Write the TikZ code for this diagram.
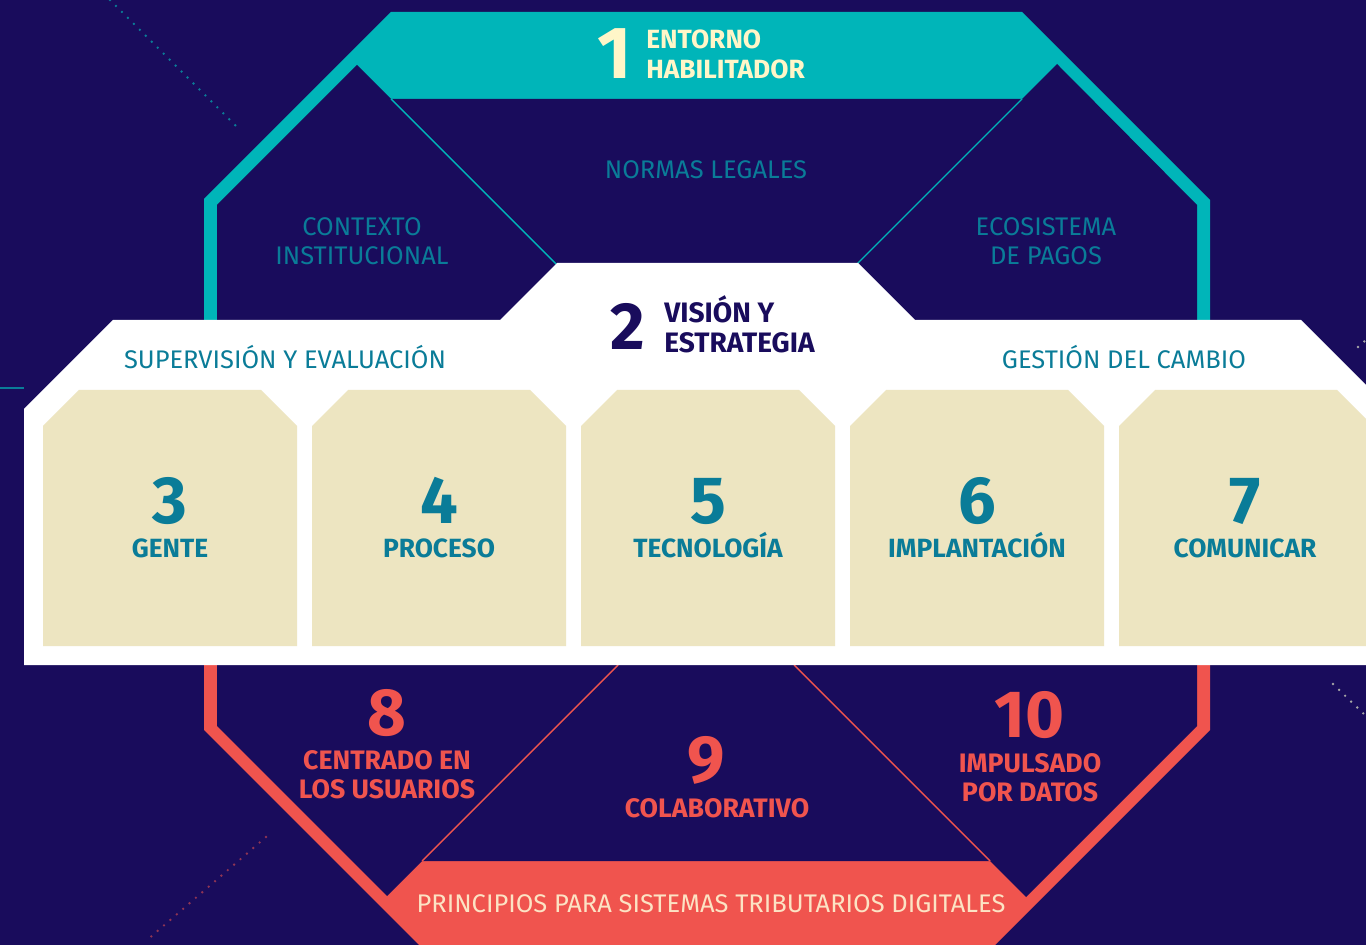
\documentclass[tikz,border=0pt]{standalone}
\usepackage{fontspec}
\setmainfont{Fira Sans}
\usetikzlibrary{positioning}

\definecolor{fondo}{RGB}{25,12,92}
\definecolor{turquesa}{RGB}{0,181,185}
\definecolor{azultxt}{RGB}{10,124,152}
\definecolor{crema}{RGB}{237,229,193}
\definecolor{coral}{RGB}{240,84,78}
\definecolor{durazno}{RGB}{252,227,196}
\definecolor{amarillo}{RGB}{255,246,200}

\tikzset{
  etiqueta/.style={text=azultxt, align=center, font=\fontsize{14.5}{16.5}\selectfont},
  pilarnum/.style={text=azultxt, inner sep=0pt, anchor=base, font=\fontsize{38}{38}\selectfont\bfseries},
  pilartxt/.style={text=azultxt, inner sep=0pt, anchor=base, font=\fontsize{15}{16.5}\selectfont\bfseries},
  principionum/.style={text=coral, inner sep=0pt, anchor=base, font=\fontsize{38}{38}\selectfont\bfseries},
  principiotxt/.style={text=coral, align=center, font=\fontsize{15.2}{16.5}\selectfont\bfseries},
  puntos/.style={line width=1.5pt, line cap=round, dash pattern=on 0pt off 4.8pt}
}

\begin{document}
\begin{tikzpicture}[x=0.02cm, y=-0.02cm]
    \useasboundingbox (0,0) rectangle (1366,945);
    \clip (0,0) rectangle (1366,945);

    % Fondo
    \fill[fondo] (0,0) rectangle (1366,945);

    % Lineas de puntos decorativas
    \draw[puntos, azultxt] (110,0) -- (240,130);
    \draw[puntos, coral!55!fondo] (266,837) -- (146,941);
    \draw[puntos, gray!70!white] (1333,684) -- (1366,716);
    \draw[puntos, gray!70!white] (1358,347) -- (1366,340);
    \draw[azultxt, line width=0.9pt] (0,388) -- (24,388);

    % Octogono superior (entorno habilitador)
    \fill[turquesa] (204,420) -- (204,199) -- (391,12) -- (1022,12) -- (1210,200) -- (1210,420) -- cycle;
    \fill[fondo] (217,420) -- (217,205) -- (357,65) -- (391,99) -- (1022,99) -- (1057,64) -- (1197,205) -- (1197,420) -- cycle;
    \draw[turquesa, line width=0.8pt] (391,99) -- (557,265);
    \draw[turquesa, line width=0.8pt] (1022,99) -- (857,264);

    % Octogono inferior (principios)
    \fill[coral] (204,600) -- (204,730) -- (419,945) -- (995,945) -- (1210,730) -- (1210,600) -- cycle;
    \fill[fondo] (217,600) -- (217,726) -- (387,896) -- (422,861) -- (990,861) -- (1026,897) -- (1197,726) -- (1197,600) -- cycle;
    \draw[coral, line width=0.8pt] (422,861) -- (618,665);
    \draw[coral, line width=0.8pt] (990,861) -- (794,665);

    % Bloque blanco (vision y estrategia)
    \fill[white] (24,665) -- (24,409) -- (113,320) -- (500,320) -- (557,263) -- (858,263)
        -- (915,320) -- (1301,320) -- (1390,409) -- (1390,665) -- cycle;

    % Pilares
    \fill[crema] (43,646) -- (43,426) -- (79,390) -- (261,390) -- (297,426) -- (297,646) -- cycle;
    \fill[crema] (312,646) -- (312,426) -- (348,390) -- (530,390) -- (566,426) -- (566,646) -- cycle;
    \fill[crema] (581,646) -- (581,426) -- (617,390) -- (799,390) -- (835,426) -- (835,646) -- cycle;
    \fill[crema] (850,646) -- (850,426) -- (886,390) -- (1068,390) -- (1104,426) -- (1104,646) -- cycle;
    \fill[crema] (1119,646) -- (1119,426) -- (1155,390) -- (1337,390) -- (1373,426) -- (1373,646) -- cycle;

    % 1 Entorno habilitador
    \node[text=amarillo, inner sep=0pt, font=\fontsize{42}{42}\selectfont\bfseries] (numuno) at (615,54) {1};
    \node[text=amarillo, anchor=west, align=left, inner sep=0pt, font=\fontsize{15}{17}\selectfont\bfseries] (entorno) at (646,54) {ENTORNO\\HABILITADOR};
    \node[etiqueta] (normas) at (706,170) {NORMAS LEGALES};
    \node[etiqueta] (contexto) at (362,241) {CONTEXTO\\INSTITUCIONAL};
    \node[etiqueta] (pagos) at (1046,241) {ECOSISTEMA\\DE PAGOS};

    % 2 Vision y estrategia
    \node[text=fondo, inner sep=0pt, font=\fontsize{38}{38}\selectfont\bfseries] (numdos) at (628,326) {2};
    \node[text=fondo, anchor=west, align=left, inner sep=0pt, font=\fontsize{16}{17}\selectfont\bfseries] (vision) at (664,324) {VISIÓN Y\\ESTRATEGIA};
    \node[etiqueta] (supervision) at (285,357) {SUPERVISIÓN Y EVALUACIÓN};
    \node[etiqueta] (cambio) at (1124,357) {GESTIÓN DEL CAMBIO};

    % 3 a 7
    \node[pilarnum] (numtres) at (170,524) {3};
    \node[pilartxt] (gente) at (170,558) {GENTE};
    \node[pilarnum] (numcuatro) at (439,524) {4};
    \node[pilartxt] (proceso) at (439,558) {PROCESO};
    \node[pilarnum] (numcinco) at (708,524) {5};
    \node[pilartxt] (tecnologia) at (708,558) {TECNOLOGÍA};
    \node[pilarnum] (numseis) at (977,524) {6};
    \node[pilartxt] (implantacion) at (977,558) {IMPLANTACIÓN};
    \node[pilarnum] (numsiete) at (1245,524) {7};
    \node[pilartxt] (comunicar) at (1245,558) {COMUNICAR};

    % 8 a 10
    \node[principionum] (numocho) at (387,735) {8};
    \node[principiotxt] (usuarios) at (387,775) {CENTRADO EN\\LOS USUARIOS};
    \node[principionum] (numnueve) at (706,782) {9};
    \node[principiotxt] (colaborativo) at (717,808) {COLABORATIVO};
    \node[principionum] (numdiez) at (1030,737) {10};
    \node[principiotxt] (datos) at (1030,778) {IMPULSADO\\POR DATOS};

    % Banda inferior
    \node[text=durazno, font=\fontsize{14.5}{16.5}\selectfont] (principios) at (711,904) {PRINCIPIOS PARA SISTEMAS TRIBUTARIOS DIGITALES};
\end{tikzpicture}
\end{document}
